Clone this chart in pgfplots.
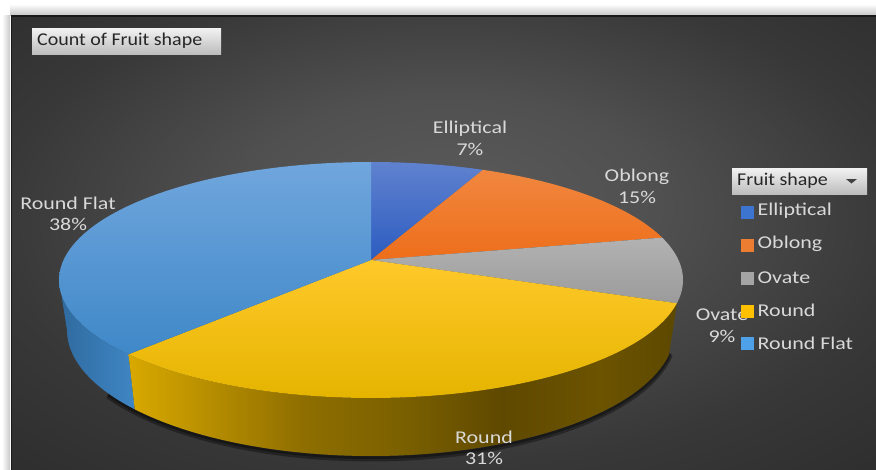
\documentclass[border=0pt]{standalone}
\usepackage{fontspec}
\setmainfont{Carlito}
\newfontfamily\labelfont[FakeStretch=1.22]{Carlito}
\newfontfamily\buttonfont[FakeStretch=1.11]{Carlito}
\usepackage{pgfplots}
\pgfplotsset{compat=1.18}

% Geometry of the tilted pie, in drawing units
\def\cx{371}\def\cy{280}\def\rx{312}\def\ry{118}
\def\bx{371}\def\by{330}\def\brx{304}\def\bry{126}
\def\apexx{371}\def\apexy{260}
\def\K{0.83}

% Percentage shares of each fruit shape, as running totals
\def\shareA{7}   % Elliptical
\def\shareB{22}  % + Oblong 15
\def\shareC{31}  % + Ovate 9
\def\shareD{62}  % + Round 31
\def\shareE{100} % + Round Flat 38

% Percentage around the pie -> parameter on the tilted ellipse
\newcommand\tparam[2]{\pgfmathsetmacro#1{2*atan2(\K*sin(#2*1.8),cos(#2*1.8))}}

\newcommand\topslice[3]{%
  \tparam\ta{#1}\tparam\tb{#2}%
  \xdef\pts{(\apexx,\apexy)}%
  \foreach \i in {0,...,60}{%
    \pgfmathsetmacro\tt{\ta+(\tb-\ta)*\i/60}%
    \pgfmathsetmacro\px{\cx+\rx*sin(\tt)}%
    \pgfmathsetmacro\py{\cy-\ry*cos(\tt)}%
    \xdef\pts{\pts (\px,\py)}%
  }%
  \edef\tmp{\noexpand\addplot[draw=none,shade,#3] coordinates {\pts};}\tmp
}

% Side wall between the upper and the lower rim
\newcommand\wall[3]{%
  \tparam\ta{#1}\pgfmathsetmacro\tb{#2}%
  \xdef\pts{}%
  \foreach \i in {0,...,60}{%
    \pgfmathsetmacro\tt{\ta+(\tb-\ta)*\i/60}%
    \pgfmathsetmacro\px{\cx+\rx*sin(\tt)}%
    \pgfmathsetmacro\py{\cy-\ry*cos(\tt)}%
    \xdef\pts{\pts (\px,\py)}%
  }%
  \foreach \i in {60,...,0}{%
    \pgfmathsetmacro\tt{\ta+(\tb-\ta)*\i/60}%
    \pgfmathsetmacro\px{\bx+\brx*sin(\tt)}%
    \pgfmathsetmacro\py{\by-\bry*cos(\tt)}%
    \xdef\pts{\pts (\px,\py)}%
  }%
  \edef\tmp{\noexpand\addplot[draw=none,shade,#3] coordinates {\pts};}\tmp
}

% Soft dark edge under the rim
\newcommand\rimshadow[2]{%
  \xdef\pts{}%
  \foreach \i in {0,...,50}{%
    \pgfmathsetmacro\tt{100+140*\i/50}%
    \pgfmathsetmacro\px{\bx+\brx*sin(\tt)}%
    \pgfmathsetmacro\py{\by-\bry*cos(\tt)+#1}%
    \xdef\pts{\pts (\px,\py)}%
  }%
  \edef\tmp{\noexpand\addplot[black,line width=#2,opacity=0.35,no marks] coordinates {\pts};}\tmp
}

\definecolor{lab}{HTML}{D9D9D9}
\definecolor{bgA}{RGB}{90,90,90}\definecolor{bgB}{RGB}{80,80,80}
\definecolor{bgC}{RGB}{56,56,56}\definecolor{bgD}{RGB}{44,44,44}
\pgfdeclareradialshading{backfield}{\pgfpoint{0bp}{6bp}}{%
  color(0bp)=(bgA);color(12bp)=(bgB);color(26bp)=(bgC);color(38bp)=(bgD);color(50bp)=(bgD)}
\definecolor{wa}{HTML}{D9A900}\definecolor{wb}{HTML}{B88F00}\definecolor{wc}{HTML}{8E6E00}
\definecolor{wd}{HTML}{7B6000}\definecolor{we}{HTML}{5F4900}\definecolor{wf}{HTML}{6B5300}
\definecolor{wg}{HTML}{5D4800}
\pgfdeclarehorizontalshading{roundside}{100bp}{%
  color(0bp)=(wa);color(25bp)=(wa);color(32bp)=(wb);color(41bp)=(wc);color(50bp)=(wd);
  color(59bp)=(we);color(68bp)=(wf);color(75bp)=(wg);color(100bp)=(wg)}
\definecolor{fa}{HTML}{2F6A9E}\definecolor{fb}{HTML}{3F86C4}
\pgfdeclarehorizontalshading{flatside}{100bp}{%
  color(0bp)=(fa);color(25bp)=(fa);color(75bp)=(fb);color(100bp)=(fb)}

\definecolor{keyA}{RGB}{61,116,208}\definecolor{keyB}{RGB}{237,125,49}
\definecolor{keyC}{RGB}{165,165,165}\definecolor{keyD}{RGB}{255,192,0}
\definecolor{keyE}{RGB}{78,160,232}
\definecolor{shadowgray}{RGB}{200,200,200}

\newcommand\legendkey[2]{\addplot[only marks,mark=square*,mark size=6pt,color=#1,mark options={draw=#1,fill=#1,line width=0pt}] coordinates {(747,#2)};}
\newcommand\labeltext[3]{\node[text=lab,align=center,inner sep=0pt,font=\labelfont\fontsize{18}{21.5}\selectfont] at (axis cs:#1,#2) {#3};}

\begin{document}
\begin{tikzpicture}
\begin{axis}[
  width=876pt,height=469pt,scale only axis,
  xmin=0,xmax=876,ymin=0,ymax=469,y dir=reverse,
  hide axis,clip=true,
]
% Page, drop shadow and panel
\addplot[draw=none,fill=white] coordinates {(-5,-5)(885,-5)(885,480)(-5,480)};
\addplot[draw=none,shade,top color=white,bottom color=shadowgray] coordinates {(10,4)(885,4)(885,15)(10,15)};
\addplot[draw=none,shade,left color=white,right color=shadowgray] coordinates {(2,15)(10,15)(10,480)(2,480)};
\addplot[draw=none,shade,shading=backfield] coordinates {(12,16)(885,16)(885,480)(12,480)};
\addplot[color=black!90,line width=1.6pt,no marks] coordinates {(11.5,480)(11.5,16)(885,16)};

% Rim of the pie
\rimshadow{3}{5pt}
\rimshadow{1.5}{3pt}
\wall{\shareD}{270}{shading=flatside}
\tparam\tend{\shareD}
\wall{\shareC}{\tend}{shading=roundside}

% Top faces
\topslice{0}{\shareA}{top color={rgb,255:red,96;green,130;blue,207},bottom color={rgb,255:red,44;green,92;blue,192}}
\topslice{\shareA}{\shareB}{top color={rgb,255:red,240;green,135;blue,63},bottom color={rgb,255:red,238;green,110;blue,26}}
\topslice{\shareB}{\shareC}{top color={rgb,255:red,178;green,178;blue,178},bottom color={rgb,255:red,155;green,155;blue,155}}
\topslice{\shareC}{\shareD}{top color={rgb,255:red,255;green,201;blue,42},bottom color={rgb,255:red,229;green,180;blue,0}}
\topslice{\shareD}{\shareE}{top color={rgb,255:red,112;green,166;blue,221},bottom color={rgb,255:red,63;green,136;blue,200}}

% Data labels
\labeltext{470}{138.5}{Elliptical\\7\%}
\labeltext{637}{186.5}{Oblong\\15\%}
\labeltext{68}{214}{Round Flat\\38\%}
\labeltext{722}{325.5}{Ovate\\9\%}
\labeltext{484}{448}{Round\\31\%}

% Title button
\addplot[draw=none,shade,top color=white!95!black,bottom color=white!74!black] coordinates {(32,28)(221,28)(221,54)(32,54)};
\node[anchor=west,inner sep=0pt,text=black!85,font=\buttonfont\fontsize{18}{21}\selectfont] at (axis cs:37,41) {Count of Fruit shape};

% Legend button and entries
\addplot[draw=none,shade,top color=white!95!black,bottom color=white!74!black] coordinates {(732,168)(867,168)(867,194)(732,194)};
\node[anchor=west,inner sep=0pt,text=black!85,font=\buttonfont\fontsize{18}{21}\selectfont] at (axis cs:737,181) {Fruit shape};
\addplot[draw=none,fill=black!75] coordinates {(846,179)(857,179)(851.5,183.5)};
\legendkey{keyA}{212}
\legendkey{keyB}{245}
\legendkey{keyC}{278}
\legendkey{keyD}{311}
\legendkey{keyE}{343}
\foreach \name/\ypos in {Elliptical/211,Oblong/244,Ovate/277.5,Round/310,Round Flat/343}{%
  \edef\tmp{\noexpand\node[anchor=west,inner sep=0pt,text=lab,font=\noexpand\labelfont\noexpand\fontsize{18}{21}\noexpand\selectfont] at (axis cs:757.5,\ypos) {\name};}\tmp
}
\end{axis}
\end{tikzpicture}
\end{document}
